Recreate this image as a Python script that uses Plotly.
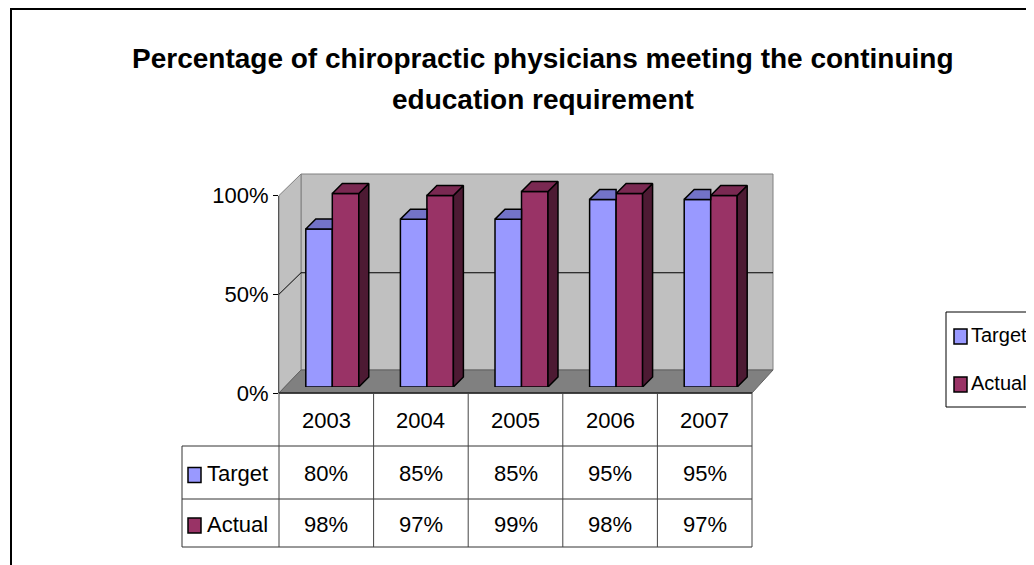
import plotly.graph_objects as go

# ---------------- data ----------------
years = ["2003", "2004", "2005", "2006", "2007"]
target = [80, 85, 85, 95, 95]
actual = [98, 97, 99, 98, 97]
series_names = ["Target", "Actual"]
y_ticks = [0, 50, 100]
y_tick_labels = ["0%", "50%", "100%"]
title_lines = ["Percentage of chiropractic physicians meeting the continuing",
               "education requirement"]

# ---------------- style ----------------
W, H = 1034, 565
PAGE_OFF = 8  # default body margin of the html page
FONT = "Liberation Sans Narrow, Arial Narrow, Liberation Sans, Arial, sans-serif"
C_T, C_T_TOP = "#9999FF", "#7373C8"
C_A, C_A_TOP, C_A_SIDE = "#993366", "#7A2952", "#4D1A33"
WALL, FLOOR = "#C0C0C0", "#808080"
TXT = 22
LEG_TXT = 20


def px(x):
    return (x - PAGE_OFF) / W


def py(y):
    return 1 - (y - PAGE_OFF) / H


# plot geometry in (screen) pixels
CAT_W = 94.6
BAR_X0, BAR_Y0, PX_PER_100 = 285, 387, 197.5
FRONT_X0, FRONT_Y0 = 279, 393
BACK_X0, BACK_X1, BACK_Y0, BACK_TOP = 301, 773, 370, 174
FRONT_X1 = FRONT_X0 + CAT_W * len(years)

bar_w = 0.28
dx = 10 / CAT_W             # depth offset in category units
dy = 10 / PX_PER_100 * 100  # depth offset in percent units

fig = go.Figure()

# front faces (bars)
for name, vals, col, off in [("Target", target, C_T, -bar_w), ("Actual", actual, C_A, 0.0)]:
    fig.add_trace(go.Bar(
        x=list(range(len(years))), y=vals, name=name, width=bar_w, offset=off,
        marker=dict(color=col, line=dict(color="black", width=1.5)),
        showlegend=False, hoverinfo="skip"))

# 3D top and side faces derived from the data
for i, (vt, va) in enumerate(zip(target, actual)):
    x0, x1, x2 = i - bar_w, i, i + bar_w
    fig.add_trace(go.Scatter(
        x=[x0, x0 + dx, x1, x1, x0], y=[vt, vt + dy, vt + dy, vt, vt],
        fill="toself", fillcolor=C_T_TOP, mode="lines",
        line=dict(color="black", width=1.5), showlegend=False, hoverinfo="skip"))
    fig.add_trace(go.Scatter(
        x=[x2, x2 + dx, x2 + dx, x2, x2], y=[0, dy, va + dy, va, 0],
        fill="toself", fillcolor=C_A_SIDE, mode="lines",
        line=dict(color="black", width=1.5), showlegend=False, hoverinfo="skip"))
    fig.add_trace(go.Scatter(
        x=[x1, x1 + dx, x2 + dx, x2, x1], y=[va, va + dy, va + dy, va, va],
        fill="toself", fillcolor=C_A_TOP, mode="lines",
        line=dict(color="black", width=1.5), showlegend=False, hoverinfo="skip"))

# invisible carrier so that the value axis (front plane) is rendered
fig.add_trace(go.Scatter(x=[0.5] * len(y_ticks), y=y_ticks, xaxis="x2", yaxis="y2",
                         mode="markers", marker=dict(opacity=0), showlegend=False,
                         hoverinfo="skip"))

shapes = []


def poly(pts, fill, line="#808080", w=1):
    path = "M " + " L ".join(f"{px(x)},{py(y)}" for x, y in pts) + " Z"
    shapes.append(dict(type="path", xref="paper", yref="paper", path=path,
                       fillcolor=fill, line=dict(color=line, width=w), layer="below"))


def seg(x0, y0, x1, y1, color="black", w=1, layer="above"):
    shapes.append(dict(type="line", xref="paper", yref="paper",
                       x0=px(x0), y0=py(y0), x1=px(x1), y1=py(y1),
                       line=dict(color=color, width=w), layer=layer))


# outer chart border
shapes.append(dict(type="rect", xref="paper", yref="paper", x0=px(11), y0=py(585),
                   x1=px(1055), y1=py(9), line=dict(color="black", width=2)))

# walls and floor
poly([(BACK_X0, BACK_TOP), (BACK_X1, BACK_TOP), (BACK_X1, BACK_Y0), (BACK_X0, BACK_Y0)], WALL)
poly([(FRONT_X0, FRONT_Y0), (FRONT_X0, FRONT_Y0 - PX_PER_100), (BACK_X0, BACK_TOP),
      (BACK_X0, BACK_Y0)], WALL)
poly([(FRONT_X0, FRONT_Y0), (BACK_X0, BACK_Y0), (BACK_X1, BACK_Y0), (FRONT_X1, FRONT_Y0)],
     FLOOR, line="#606060")
# 50% gridline on back and side walls
g_back = BACK_Y0 - 50 / 100 * (BACK_Y0 - BACK_TOP - 1.5)
g_front = FRONT_Y0 - 50 / 100 * PX_PER_100
seg(BACK_X0, g_back, BACK_X1, g_back, "black", 1, "below")
seg(FRONT_X0, g_front, BACK_X0, g_back, "black", 1, "below")

# data table grid
ROW_Y = [FRONT_Y0, 446, 499, 547]
TABLE_X0 = 182
col_x = [FRONT_X0 + CAT_W * k for k in range(len(years) + 1)]
seg(FRONT_X0, ROW_Y[0], FRONT_X1, ROW_Y[0], "#222", 1.5)
for yy in ROW_Y[1:]:
    seg(TABLE_X0, yy, FRONT_X1, yy, "#333", 1)
seg(TABLE_X0, ROW_Y[1], TABLE_X0, ROW_Y[3], "#333", 1)
for xx in col_x:
    seg(xx, ROW_Y[0], xx, ROW_Y[3], "#444", 1)

annotations = []


def text(s, x, y, size, anchor="center"):
    annotations.append(dict(text=s, x=px(x), y=py(y), xref="paper", yref="paper",
                            showarrow=False, xanchor=anchor, yanchor="middle",
                            font=dict(family=FONT, size=size, color="black")))


for j, line in enumerate(title_lines):
    text(f"<b>{line}</b>", 543, [58, 100][j], 28)

for i, yr in enumerate(years):
    cx = col_x[i] + CAT_W / 2
    text(yr, cx, (ROW_Y[0] + ROW_Y[1]) / 2 + 1, TXT)
    for r, vals in enumerate([target, actual]):
        text(f"{vals[i]}%", cx, (ROW_Y[r + 1] + ROW_Y[r + 2]) / 2 + 1, TXT)

# row labels with legend keys in the table
for r, (name, col) in enumerate(zip(series_names, [C_T, C_A])):
    cy = (ROW_Y[r + 1] + ROW_Y[r + 2]) / 2 + 2
    shapes.append(dict(type="rect", xref="paper", yref="paper",
                       x0=px(188), x1=px(201), y0=py(cy + 8), y1=py(cy - 7),
                       fillcolor=col, line=dict(color="black", width=1.5)))
    text(name, 205, cy - 1, TXT, "left")

# legend box on the right
shapes.append(dict(type="rect", xref="paper", yref="paper", x0=px(946), x1=px(1060),
                   y0=py(407), y1=py(312), line=dict(color="black", width=1)))
for r, (name, col) in enumerate(zip(series_names, [C_T, C_A])):
    cy = 336 + r * 48
    shapes.append(dict(type="rect", xref="paper", yref="paper",
                       x0=px(954), x1=px(967), y0=py(cy + 8), y1=py(cy - 7),
                       fillcolor=col, line=dict(color="black", width=1.5)))
    text(name, 969, cy - 1, LEG_TXT, "left")

fig.update_layout(
    width=W, height=H,
    margin=dict(l=0, r=0, t=0, b=0, autoexpand=False),
    paper_bgcolor="white", plot_bgcolor="rgba(0,0,0,0)",
    barmode="overlay", showlegend=False,
    xaxis=dict(domain=[px(BAR_X0), px(BAR_X0 + CAT_W * len(years))],
               range=[-0.5, len(years) - 0.5], visible=False, fixedrange=True),
    yaxis=dict(domain=[py(BAR_Y0), py(BACK_TOP)],
               range=[0, (BAR_Y0 - BACK_TOP) / PX_PER_100 * 100],
               visible=False, fixedrange=True),
    xaxis2=dict(domain=[px(FRONT_X0), px(FRONT_X1)], anchor="y2", visible=False,
                range=[0, 1], fixedrange=True),
    yaxis2=dict(domain=[py(FRONT_Y0), py(FRONT_Y0 - PX_PER_100)], anchor="x2",
                range=[0, 100], tickvals=y_ticks, ticktext=y_tick_labels,
                showline=True, linecolor="#555", linewidth=1,
                ticks="outside", ticklen=5, tickcolor="black",
                showgrid=False, zeroline=False, fixedrange=True,
                tickfont=dict(family=FONT, size=TXT, color="black")),
    shapes=shapes, annotations=annotations,
)

fig.write_html("out.html")
